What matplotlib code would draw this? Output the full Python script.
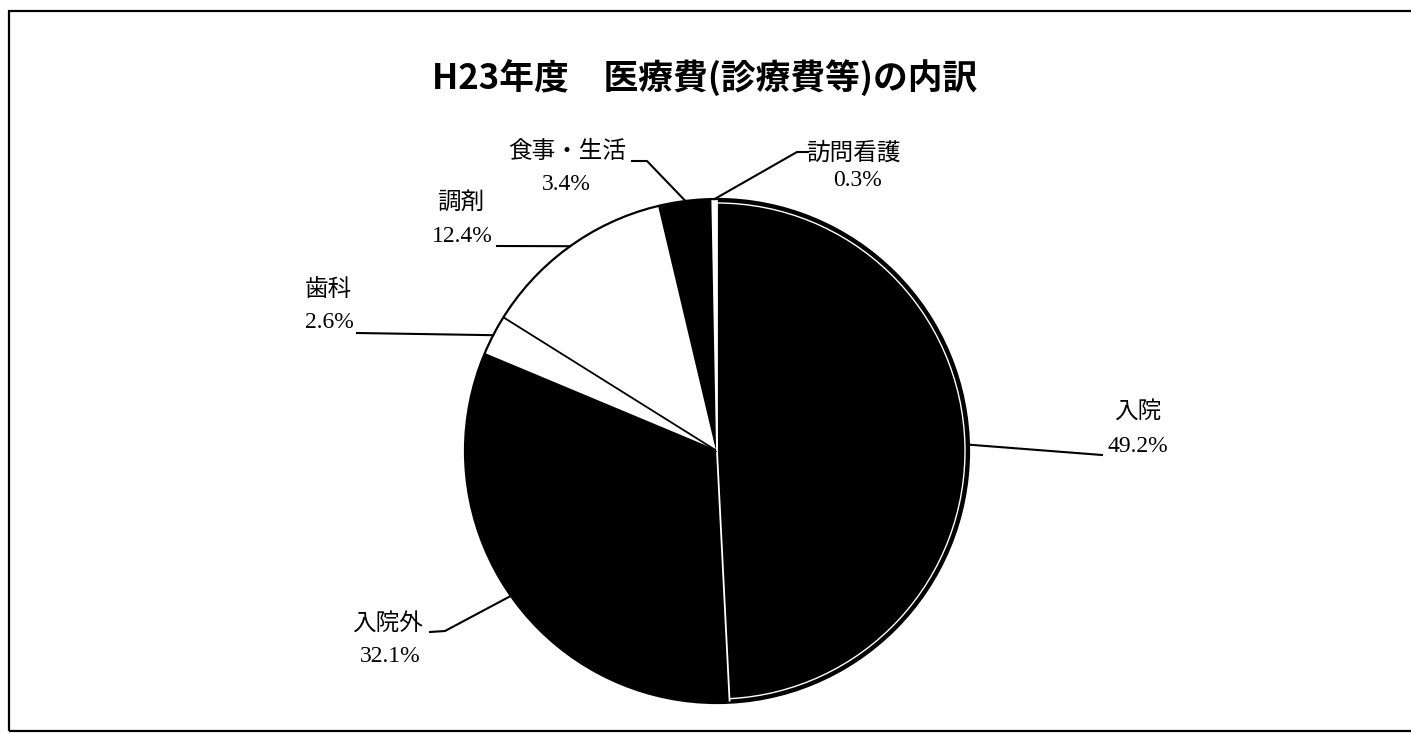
import matplotlib
matplotlib.use('Agg')
import matplotlib.pyplot as plt
import numpy as np
from matplotlib.patches import Rectangle, Circle, Arc

# ---- data ----
labels = ['入院', '入院外', '歯科', '調剤', '食事・生活', '訪問看護']
values = [49.2, 32.1, 2.6, 12.4, 3.4, 0.3]
pct_labels = ['49.2%', '32.1%', '2.6%', '12.4%', '3.4%', '0.3%']
colors = ['black', 'black', 'white', 'white', 'black', 'white']
title = 'H23年度　医療費(診療費等)の内訳'

W, H = 1411, 733
fig = plt.figure(figsize=(W / 100, H / 100), dpi=100)
ax = fig.add_axes([0, 0, 1, 1])

def Y(y):
    return H - y

cx, cy, R = 717, Y(451), 252
wedges, _ = ax.pie(values, colors=colors, startangle=90, counterclock=False,
                   center=(cx, cy), radius=R, frame=True,
                   wedgeprops=dict(linewidth=0, antialiased=True))
ax.set_xlim(0, W)
ax.set_ylim(0, H)
ax.set_aspect('equal')
ax.axis('off')

total = sum(values)
cum = np.concatenate([[0], np.cumsum(values)]) / total
angles = 90 - cum * 360  # boundary angles in degrees

def pt(ang, r=R):
    a = np.deg2rad(ang)
    return cx + r * np.cos(a), cy + r * np.sin(a)

# radial boundaries
bcol = ['white', 'white', 'black', 'black', 'black', 'white']
for i, ang in enumerate(angles[:-1]):
    x1, y1 = pt(ang)
    c = bcol[i]
    ax.plot([cx, x1], [cy, y1], color=c, lw=1.3, zorder=5, solid_capstyle='butt')

# white inner arc on first slice
ax.add_patch(Arc((cx, cy), 2 * (R - 4), 2 * (R - 4), theta1=angles[1], theta2=angles[0],
                 color='white', lw=1.0, zorder=6))
# outline
ax.add_patch(Circle((cx, cy), R, fill=False, ec='black', lw=1.6, zorder=7))

# frame
ax.add_patch(Rectangle((9, Y(731)), W, 720, fill=False, ec='black', lw=1.6, zorder=1))

fam = ['Liberation Serif', 'Noto Sans CJK JP']
fs = 17
# layout: (name_xy, name_ha, pct_xy, pct_ha, path points after anchor)
layout = [
    ((1138, 412), 'center', (1138, 447), 'center', [(1102, 455)]),
    ((388, 624), 'center', (390, 656), 'center', [(445, 631), (430, 632)]),
    ((305, 290), 'left', (305, 323), 'left', [(357, 333)]),
    ((437, 203), 'left', (432, 237), 'left', [(497, 246)]),
    ((567, 152), 'center', (566, 185), 'center', [(647, 161), (632, 161)]),
    ((853, 153), 'center', (857, 180), 'center', [(797, 152), (808, 152)]),
]
for i, (nxy, nha, pxy, pha, path) in enumerate(layout):
    mid = (angles[i] + angles[i + 1]) / 2
    ax0, ay0 = pt(mid)
    xs = [ax0] + [p[0] for p in path]
    ys = [ay0] + [Y(p[1]) for p in path]
    ax.plot(xs, ys, color='black', lw=1.5, zorder=8)
    ax.text(nxy[0], Y(nxy[1]), labels[i], ha=nha, va='center', fontsize=fs, family=fam)
    ax.text(pxy[0], Y(pxy[1]), pct_labels[i], ha=pha, va='center', fontsize=fs, family=fam)

ax.text(705, Y(78), title, ha='center', va='center', fontsize=25, fontweight='bold',
        family=['Noto Sans CJK JP', 'DejaVu Sans'])

fig.savefig('out.png', dpi=100)
